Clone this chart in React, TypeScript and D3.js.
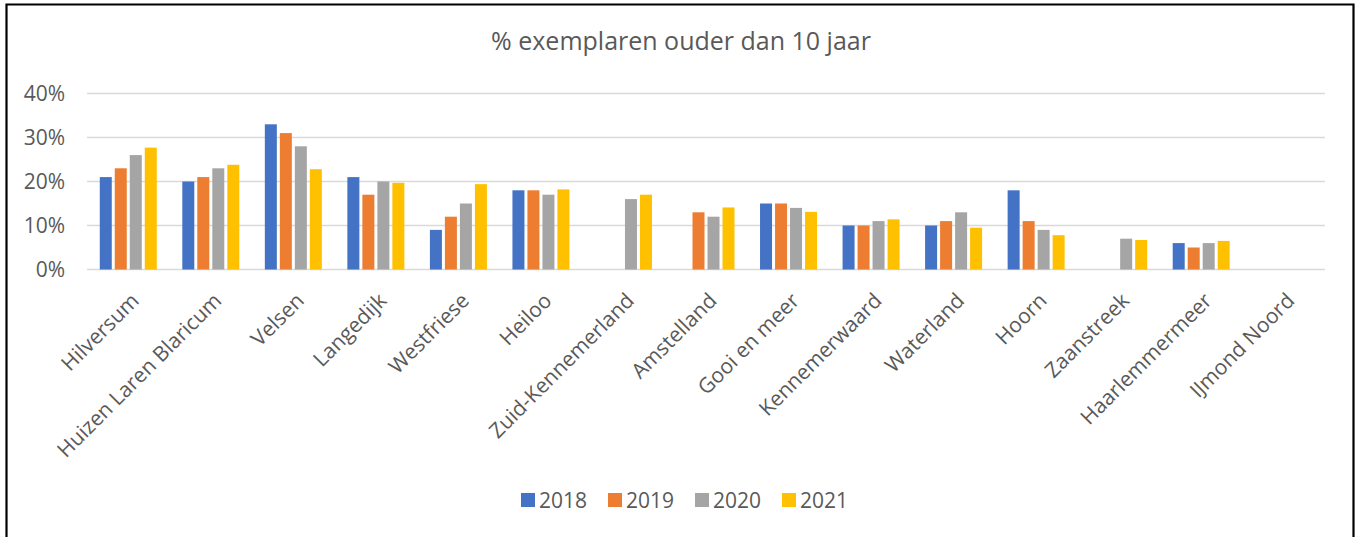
import React, { useEffect, useRef } from "react";
import * as d3 from "d3";

const categories = [
  "Hilversum",
  "Huizen Laren Blaricum",
  "Velsen",
  "Langedijk",
  "Westfriese",
  "Heiloo",
  "Zuid-Kennemerland",
  "Amstelland",
  "Gooi en meer",
  "Kennemerwaard",
  "Waterland",
  "Hoorn",
  "Zaanstreek",
  "Haarlemmermeer",
  "IJmond Noord",
];

const years = ["2018", "2019", "2020", "2021"];

const values2018: (number | null)[] = [0.21, 0.2, 0.33, 0.21, 0.09, 0.18, null, null, 0.15, 0.1, 0.1, 0.18, null, 0.06, null];
const values2019: (number | null)[] = [0.23, 0.21, 0.31, 0.17, 0.12, 0.18, null, 0.13, 0.15, 0.1, 0.11, 0.11, null, 0.05, null];
const values2020: (number | null)[] = [0.26, 0.23, 0.28, 0.2, 0.15, 0.17, 0.16, 0.12, 0.14, 0.11, 0.13, 0.09, 0.07, 0.06, null];
const values2021: (number | null)[] = [0.277, 0.238, 0.228, 0.197, 0.194, 0.182, 0.17, 0.141, 0.131, 0.114, 0.095, 0.078, 0.067, 0.065, null];

const yTicks = [0, 0.1, 0.2, 0.3, 0.4];
const colors = ["#4472C4", "#ED7D31", "#A5A5A5", "#FFC000"];

const title = "% exemplaren ouder dan 10 jaar";

export default function App() {
  const ref = useRef<SVGSVGElement>(null);

  useEffect(() => {
    const svg = d3.select(ref.current);
    svg.selectAll("*").remove();
    const W = 1364, H = 537;
    const font = "'Open Sans', sans-serif";
    const textColor = "#595959";

    const series = [values2018, values2019, values2020, values2021];

    const x = d3.scaleBand<string>().domain(categories).range([87, 1325]).padding(0);
    const x1 = d3.scaleBand<string>().domain(years).range([0, 57]).paddingInner(0.2).paddingOuter(0);
    const y = d3.scaleLinear().domain([0, 0.4]).range([269.5, 93.5]);

    svg.append("rect").attr("x", 0).attr("y", 0).attr("width", W).attr("height", H).attr("fill", "#fff");

    // border
    svg.append("path")
      .attr("d", `M6.5,${H + 5} V4.5 H1353.5 V${H + 5}`)
      .attr("fill", "none")
      .attr("stroke", "#000")
      .attr("stroke-width", 2.2);

    // title
    svg.append("text")
      .attr("x", 681)
      .attr("y", 50)
      .attr("text-anchor", "middle")
      .attr("font-family", font)
      .attr("font-size", 25)
      .attr("fill", textColor)
      .text(title);

    // gridlines
    svg.append("g")
      .selectAll("line")
      .data(yTicks)
      .join("line")
      .attr("x1", 87)
      .attr("x2", 1325)
      .attr("y1", (d) => y(d))
      .attr("y2", (d) => y(d))
      .attr("stroke", "#D9D9D9")
      .attr("stroke-width", 1.6);

    // y labels
    svg.append("g")
      .selectAll("text")
      .data(yTicks)
      .join("text")
      .attr("x", 65)
      .attr("y", (d) => y(d))
      .attr("dy", "0.35em")
      .attr("text-anchor", "end")
      .attr("font-family", font)
      .attr("font-size", 21)
      .attr("fill", textColor)
      .text((d) => d3.format(".0%")(d));

    // bars
    const gBars = svg.append("g");
    series.forEach((vals, si) => {
      gBars.append("g")
        .selectAll("rect")
        .data(categories.map((c, i) => ({ c, v: vals[i] })).filter((d) => d.v != null))
        .join("rect")
        .attr("x", (d) => (x(d.c) as number) + x.bandwidth() / 2 - 28.5 + (x1(years[si]) as number))
        .attr("width", x1.bandwidth())
        .attr("y", (d) => y(d.v as number))
        .attr("height", (d) => y(0) - y(d.v as number))
        .attr("fill", colors[si]);
    });

    // x labels
    svg.append("g")
      .selectAll("text")
      .data(categories)
      .join("text")
      .attr("transform", (d) => `translate(${(x(d) as number) + x.bandwidth() / 2 + 12},${302}) rotate(-45)`)
      .attr("text-anchor", "end")
      .attr("font-family", font)
      .attr("font-size", 21)
      .attr("fill", textColor)
      .text((d) => d);

    // legend
    const legend = svg.append("g");
    years.forEach((yr, i) => {
      const lx = 521 + i * 87;
      legend.append("rect")
        .attr("x", lx)
        .attr("y", 493)
        .attr("width", 14)
        .attr("height", 14)
        .attr("fill", colors[i]);
      legend.append("text")
        .attr("x", lx + 18)
        .attr("y", 507.5)
        .attr("font-family", font)
        .attr("font-size", 21)
        .attr("fill", textColor)
        .text(yr);
    });
  }, []);

  return (
    <svg
      ref={ref}
      width={1364}
      height={537}
      style={{ position: "absolute", left: 0, top: 0, display: "block" }}
    />
  );
}
